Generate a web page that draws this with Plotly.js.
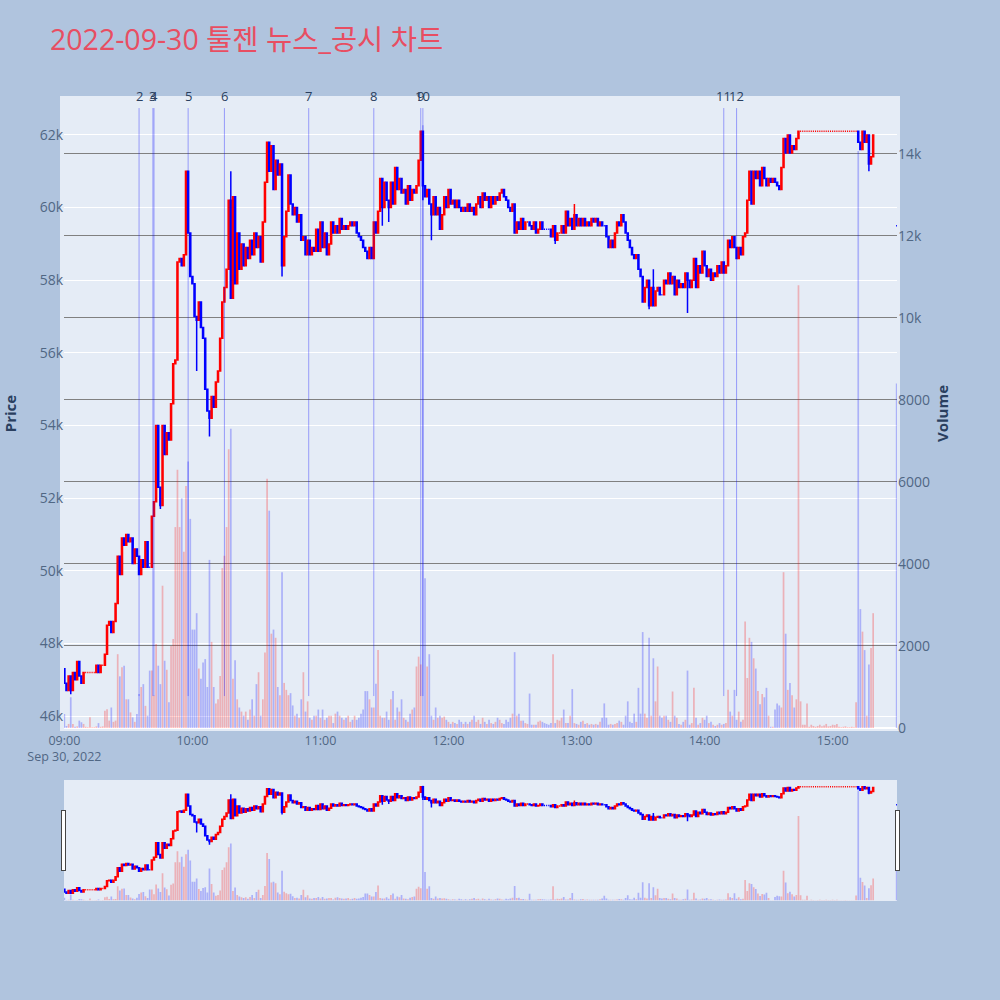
<!DOCTYPE html>
<html><head><meta charset="utf-8">
<script src="https://cdn.plot.ly/plotly-3.0.1.min.js"></script>
<style>html,body{margin:0;padding:0;background:#B0C4DE;}</style>
</head><body>
<div id="chart" style="width:1000px;height:1000px;"></div>
<script>
const dayDate = '2022-09-30';
const firstOpen = 47300;
// 1-minute closes 09:00 .. 15:19
const closes = [
46900,46700,47100,46700,47200,47000,47500,47100,46900,47200,
47200,47200,47200,47200,47200,47400,47200,47400,47400,47700,
48500,48600,48300,48600,49100,50400,49900,50900,50700,51000,
50800,50900,50200,50600,50400,49900,50300,50100,50800,50100,
50100,51500,51900,54000,52300,51800,54000,53200,53800,53600,
54600,55700,55800,58500,58600,58400,58700,61000,59300,58100,
57900,57000,56900,57400,56700,56400,55000,54400,54200,54800,
54500,55200,55500,56400,57400,57800,58300,60200,57500,60300,
57900,59300,58300,59000,58400,58900,58600,59100,58700,59300,
58900,59200,58500,59600,60700,61800,61000,61700,60500,61300,
60900,61200,58400,59200,59900,60900,60100,59800,60000,59600,
59800,59100,59200,58700,59100,58700,58900,58800,59400,58800,
59600,58900,59300,58700,59000,59600,59300,59500,59300,59700,
59400,59500,59400,59500,59600,59500,59600,59300,59200,59100,
58900,58800,58600,58900,58600,59600,59300,59900,60800,60000,
60700,60200,60000,60700,60100,61100,60500,60800,60400,60500,
60100,60600,60200,60500,60400,60600,61300,62100,60600,60300,
60500,60100,59800,60300,59800,60000,59400,59800,60300,60000,
60500,60100,60200,60000,60200,60000,59900,60000,59900,60100,
59900,60000,59800,60100,60300,60000,60400,60200,60300,60000,
60300,60100,60300,60200,60400,60500,60300,60200,60000,59900,
60100,59300,59600,59400,59700,59400,59600,59600,59500,59400,
59600,59300,59400,59600,59400,59400,59400,59400,59200,59500,
59100,59300,59300,59500,59300,59900,59500,59700,59400,59800,
59500,59700,59500,59700,59500,59600,59500,59700,59600,59700,
59500,59600,59500,59500,59200,58900,59100,58900,59300,59600,
59500,59800,59600,59300,59100,58900,58700,58600,58700,58300,
58100,57400,57800,58000,57300,57800,57300,57700,57800,57600,
57600,58000,57900,58200,57900,58100,57600,58000,57800,57900,
57800,58200,58000,57800,58000,58600,57800,58400,58200,58800,
58400,58100,58300,58000,58200,58100,58400,58200,58500,58200,
58400,59100,58900,59200,58900,58600,58900,58700,59200,59300,
60200,61000,60100,61000,60800,61000,60600,61100,60800,60600,
60800,60700,60800,60700,60600,60500,61100,61900,61500,62000,
61500,61700,61600,61900,62100,62100,62100,62100,62100,62100,
62100,62100,62100,62100,62100,62100,62100,62100,62100,62100,
62100,62100,62100,62100,62100,62100,62100,62100,62100,62100,
62100,62100,61800,61600,62100,61800,62000,61200,61400,62000
];
const volumes = [
340,50,100,750,100,30,40,180,140,100,
30,20,260,20,20,40,120,30,40,420,
460,180,500,150,180,1800,1260,1480,1520,700,
700,380,260,150,340,830,1000,1070,540,300,
1400,1400,790,2050,1520,1070,3470,1640,1420,630,
2000,2170,4900,6300,4900,5600,4300,5900,6500,5100,
2400,2400,2800,1450,1200,1600,1680,1000,4100,2100,
1000,600,700,1270,3900,4200,4900,6800,7300,1200,
1650,700,500,400,300,400,200,450,700,300,
1070,1360,300,700,1840,6080,5300,2300,2400,2200,
1000,800,3800,1100,930,800,850,550,300,350,
250,700,1360,400,650,250,200,300,300,450,
250,450,200,250,300,300,120,350,400,300,
250,200,250,300,150,200,300,200,250,350,
450,900,900,700,500,500,1080,1900,300,250,
250,400,200,700,900,200,500,400,700,250,
200,150,350,450,500,1500,1740,1550,14700,3650,
1500,1800,300,200,500,250,300,250,280,200,
150,100,150,120,100,200,150,100,150,100,
150,200,300,150,200,100,250,150,100,200,
120,100,150,250,200,120,100,200,150,250,
350,1850,300,350,180,180,120,100,840,80,
80,80,150,180,150,120,100,80,120,1800,
120,200,180,250,450,120,120,300,950,120,
100,80,150,180,100,120,80,100,80,100,
80,150,250,600,250,80,100,80,100,120,
180,150,80,300,650,150,120,350,150,980,
350,2340,350,250,2200,300,1700,650,1500,300,
250,300,300,200,150,890,300,250,100,80,
150,200,1400,80,120,980,250,80,120,250,
200,300,120,150,80,50,80,120,80,100,
120,930,400,300,930,200,400,150,200,2600,
1220,2200,2100,1700,1450,900,580,830,750,980,
300,30,30,450,600,550,500,3800,2300,930,
1100,800,500,700,10800,650,80,80,600,30,
80,50,30,50,80,40,60,100,40,50,
80,70,100,30,20,30,40,20,20,30,
20,630,14070,2900,2350,1900,300,1550,1950,2800
];
const auctionTime = '15:30';
const auctionClose = 59500;
const auctionVolume = 8400;
// [minute index, wick price]
const lowWicks = [[3,46600],[45,51700],[62,55500],[68,53700],[102,58100],[149,59500],[152,59600],[168,60200],[172,59100],[230,59000],[274,57200],[292,57100],[377,61000]];
const highWicks = [[78,61000],[239,60100],[276,58300]];
const eventLabels = ['2','3','4','5','6','7','8','9','10','11','12'];
const eventTimes = ['09:35:00','09:41:30','09:42:00','09:58:00','10:15:00','10:54:30','11:25:00','11:47:00','11:48:00','14:09:00','14:15:00'];
const priceTickVals = [46000,48000,50000,52000,54000,56000,58000,60000,62000];
const volumeTickVals = [0,2000,4000,6000,8000,10000,12000,14000];

function stamp(i){
  const t = 9*60 + i;
  const h = Math.floor(t/60), m = t % 60;
  return dayDate + ' ' + String(h).padStart(2,'0') + ':' + String(m).padStart(2,'0');
}
const x = [], o = [], h = [], l = [], c = [], v = [];
closes.forEach((cl, i) => {
  const op = i === 0 ? firstOpen : closes[i-1];
  x.push(stamp(i)); o.push(op); c.push(cl);
  h.push(Math.max(op, cl)); l.push(Math.min(op, cl)); v.push(volumes[i]);
});
lowWicks.forEach(([i, p]) => { l[i] = Math.min(l[i], p); });
highWicks.forEach(([i, p]) => { h[i] = Math.max(h[i], p); });
x.push(dayDate + ' ' + auctionTime); o.push(auctionClose); c.push(auctionClose);
h.push(auctionClose); l.push(auctionClose); v.push(auctionVolume);

// bar colours follow candle direction
const barColors = [];
let dirPrev = 1;
for (let i = 0; i < c.length; i++) {
  let d;
  if (c[i] > o[i]) d = 1; else if (c[i] < o[i]) d = -1;
  else if (i > 0 && c[i] > c[i-1]) d = 1; else if (i > 0 && c[i] < c[i-1]) d = -1;
  else d = dirPrev;
  dirPrev = d;
  barColors.push(d > 0 ? 'rgba(255,0,0,0.25)' : 'rgba(0,0,255,0.25)');
}

const xRange = [dayDate + ' 08:59:50', dayDate + ' 15:30:10'];

const traces = [
  {type:'candlestick', x:x, open:o, high:h, low:l, close:c, yaxis:'y', name:'Price',
   whiskerwidth:0,
   increasing:{line:{color:'red', width:1.5}, fillcolor:'red'},
   decreasing:{line:{color:'blue', width:1.5}, fillcolor:'blue'}},
  {type:'bar', x:x, y:v, yaxis:'y2', name:'Volume', marker:{color:barColors, line:{width:0}}}
];

const shapes = [{type:'rect', xref:'paper', yref:'paper', x0:-4/833, x1:1+3/833, y0:0, y1:1,
  fillcolor:'#E5ECF6', line:{width:0}, layer:'below'}];
const annotations = [];
eventTimes.forEach((t, k) => {
  const xt = dayDate + ' ' + t;
  shapes.push({type:'line', xref:'x', yref:'y', x0:xt, x1:xt, y0:46550, y1:62740,
    line:{color:'rgba(0,0,255,0.35)', width:1}});
  annotations.push({x:xt, xref:'x', y:1, yref:'paper', text:eventLabels[k], showarrow:false,
    yanchor:'middle', xanchor:'center', font:{size:13, color:'#2a3f5f'}});
});

const yTickFont = {size:14, color:'#506784'};
const xTickFont = {size:12.5, color:'#506784'};
const layout = {
  width:1000, height:1000,
  paper_bgcolor:'#B0C4DE', plot_bgcolor:'#E5ECF6',
  font:{family:'"Open Sans", "Noto Sans CJK KR", sans-serif', color:'#2a3f5f', size:12},
  title:{text:'2022-09-30 툴젠 뉴스_공시 차트', x:0.05, xanchor:'left', y:0.96, yanchor:'middle', yref:'container',
    font:{size:28.5, color:'rgb(232,78,98)'}},
  margin:{l:64, r:103, t:96, b:100},
  showlegend:false,
  xaxis:{type:'date', range:xRange, showgrid:false, zeroline:false, tickfont:xTickFont,
    rangeslider:{visible:true, thickness:0.15, bgcolor:'#E5ECF6', borderwidth:0, range:xRange}},
  yaxis:{title:{text:'<b>Price</b>', font:{size:15}, standoff:22}, range:[45588,63072], tickvals:priceTickVals,
    gridcolor:'white', zeroline:false, side:'left', tickfont:yTickFont},
  yaxis2:{title:{text:'<b>Volume</b>', font:{size:15}}, overlaying:'y', side:'right', range:[-73,15412],
    tickvals:volumeTickVals, gridcolor:'gray', gridwidth:1, zeroline:true, zerolinecolor:'white', zerolinewidth:2,
    tickfont:yTickFont},
  shapes:shapes, annotations:annotations
};
Plotly.newPlot('chart', traces, layout, {displayModeBar:false});
</script>
</body></html>
